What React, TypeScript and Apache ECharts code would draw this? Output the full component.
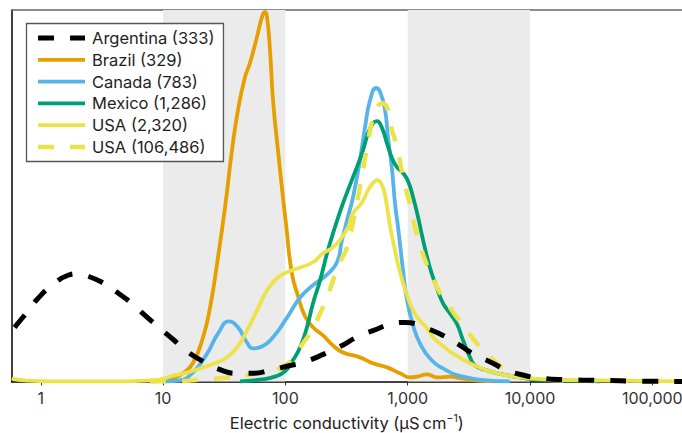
import { useEffect, useRef } from "react";
import * as echarts from "echarts";

// Conductivity (µS/cm) vs. relative density, one [conductivity, density] list per country.
const argentina: [number, number][] = [
  [0.61, 14.6], [0.77, 18.6], [0.95, 22.4], [1.24, 25.9], [1.67, 28.6], [1.98, 29.0],
  [2.3, 28.6], [3.17, 26.7], [4.2, 24.0], [5.57, 21.0], [7.11, 17.8], [9.44, 14.3],
  [12.1, 11.3], [15.7, 8.1], [20.0, 5.9], [29.2, 3.2], [40.2, 2.2], [54.3, 2.2],
  [74.8, 3.0], [109, 4.3], [139, 5.1], [211, 7.5], [280, 9.4], [392, 12.1], [520, 13.7],
  [758, 15.6], [951, 15.9], [1148, 15.6], [1440, 14.3], [1945, 12.4], [2680, 9.7],
  [3420, 7.5], [4980, 4.9], [6470, 3.0], [9080, 1.6], [12100, 0.9], [19300, 0.5],
  [37300, 0.3], [79300, 0.1], [175000, 0],
];

const brazil: [number, number][] = [
  [7.8, 0], [10.4, 0.3], [12.1, 0.8], [14.5, 2.2], [17.5, 4.9], [21.2, 11.9], [24.2, 19.9],
  [28.1, 33.4], [32.1, 46.9], [36.6, 62.3], [40.9, 73.0], [46.7, 81.9], [51.3, 85.7],
  [58.5, 92.7], [64.3, 98.1], [68.0, 99.5], [70.6, 98.3], [74.8, 89.2], [79.2, 75.7],
  [86.9, 62.3], [95.5, 49.6], [101, 42.6], [113, 29.1], [127, 22.9], [145, 17.5],
  [168, 14.6], [203, 12.4], [245, 9.7], [296, 7.8], [407, 6.5], [520, 4.9], [677, 3.8],
  [865, 2.2], [1045, 1.1], [1190, 1.3], [1440, 1.9], [1740, 1.1], [2220, 1.3],
  [2680, 0.9], [3550, 0.3], [5170, 0],
];

const canada: [number, number][] = [
  [10.4, 0], [13.7, 0.3], [17.5, 2.4], [22.9, 7.5], [28.1, 12.9], [34.6, 16.2],
  [40.9, 14.6], [48.5, 10.5], [54.3, 8.9], [64.3, 9.4], [79.2, 11.9], [103, 17.2],
  [132, 22.6], [168, 25.9], [219, 28.8], [264, 32.1], [290, 38.0], [319, 43.4],
  [357, 49.6], [407, 59.6], [448, 68.5], [492, 75.7], [551, 79.0], [594, 78.0],
  [653, 73.0], [690, 65.8], [745, 56.9], [787, 48.0], [834, 41.5], [916, 29.9],
  [988, 21.8], [1107, 15.1], [1262, 10.2], [1524, 6.2], [2020, 3.2], [2830, 1.3],
  [4450, 0.3], [6850, 0],
];

const mexico: [number, number][] = [
  [42.5, 0], [61.9, 0.5], [82.2, 1.3], [99, 2.7], [115, 5.7], [132, 9.2], [150, 14.6],
  [168, 21.0], [192, 27.2], [219, 34.5], [245, 39.9], [296, 48.0], [357, 55.0],
  [423, 61.4], [474, 66.8], [520, 69.5], [561, 70.1], [617, 68.2], [677, 64.1],
  [745, 60.1], [817, 57.7], [916, 56.1], [1007, 53.9], [1107, 49.6], [1216, 44.2],
  [1337, 38.0], [1524, 30.5], [1738, 25.1], [1945, 21.0], [2219, 18.3], [2534, 15.4],
  [2834, 11.1], [3234, 6.5], [3550, 4.3], [4450, 3.0], [6010, 1.9], [8280, 1.1],
  [11400, 0.5], [17600, 0.3], [37300, 0],
];

const usaWells: [number, number][] = [
  [0.58, 0.8], [0.74, 0.3], [1.19, 0], [4.43, 0], [7.82, 0.3], [9.4, 0.5], [12.1, 1.6],
  [15.7, 2.4], [20.0, 3.5], [27.6, 5.1], [33.3, 6.5], [40.2, 9.2], [48.5, 13.7],
  [58.5, 19.1], [70.6, 24.5], [85.3, 27.8], [103, 29.4], [132, 30.7], [168, 32.1],
  [203, 34.5], [245, 36.1], [290, 38.8], [325, 41.5], [357, 45.3], [423, 48.2],
  [474, 51.5], [520, 53.4], [561, 54.2], [617, 52.8], [664, 48.8], [716, 42.0],
  [787, 35.3], [865, 29.4], [988, 23.2], [1107, 19.1], [1262, 16.4], [1440, 14.3],
  [1611, 11.9], [1837, 10.2], [2350, 7.5], [3234, 4.9], [4450, 3.0], [6010, 1.9],
  [8280, 1.1], [15400, 0.5], [37300, 0.3], [175000, 0],
];

const usaAll: [number, number][] = [
  [7.82, 0], [13.7, 0.1], [20.0, 0.5], [33.9, 1.1], [64.3, 2.4], [99, 4.3], [122, 7.8],
  [145, 11.1], [168, 14.3], [192, 18.3], [219, 22.6], [245, 27.2], [280, 32.1],
  [319, 36.1], [357, 42.9], [407, 52.3], [465, 63.1], [520, 71.1], [561, 73.8],
  [617, 74.9], [677, 73.8], [716, 69.5], [817, 63.1], [916, 55.0], [1045, 47.4],
  [1148, 41.5], [1262, 36.7], [1440, 31.3], [1738, 25.3], [2100, 21.0], [2534, 17.2],
  [3055, 13.7], [3690, 10.2], [4450, 7.5], [5370, 4.9], [6850, 2.4], [9440, 1.1],
  [13800, 0.5], [25600, 0.3], [175000, 0],
];

const seriesNames = [
  "Argentina (333)",
  "Brazil (329)",
  "Canada (783)",
  "Mexico (1,286)",
  "USA (2,320)",
  "USA (106,486)",
];

const tickValues = [1, 10, 100, 1000, 10000, 100000];
const shadedRanges: [number, number][] = [
  [10, 100],
  [1000, 10000],
];
const xMin = 0.576;
const xMax = 174900;

const FONT = "Inter, 'Noto Sans', sans-serif";

export default function App() {
  const ref = useRef<HTMLDivElement>(null);

  useEffect(() => {
    if (!ref.current) return;
    const chart = echarts.init(ref.current, undefined, { renderer: "svg" });

    const lineSeries = (
      name: string,
      data: [number, number][],
      color: string,
      width: number,
      dashed: boolean,
      z: number
    ) => ({
      name,
      type: "line",
      data,
      showSymbol: false,
      symbol: "none",
      smooth: 0.5,
      z,
      lineStyle: {
        color,
        width,
        type: dashed ? [16, 16] : "solid",
        cap: "butt",
        join: "round",
      },
      itemStyle: { color },
    });

    chart.setOption({
      animation: false,
      grid: {
        left: 11.5,
        right: 0,
        top: 10,
        bottom: 51.5,
        containLabel: false,
        outerBoundsMode: "none",
      },
      legend: {
        data: seriesNames,
        orient: "vertical",
        left: 26.5,
        top: 23.5,
        itemWidth: 47,
        itemHeight: 14,
        itemGap: 4.8,
        padding: [6, 9, 6, 9],
        borderColor: "#555555",
        borderWidth: 1.3,
        backgroundColor: "#ffffff",
        selectedMode: false,
        itemStyle: { opacity: 0, borderWidth: 0 },
        lineStyle: { width: "inherit" },
        textStyle: {
          fontFamily: FONT,
          fontSize: 16.5,
          color: "#1e1e1e",
          padding: [0, 0, 0, 2],
        },
      },
      xAxis: [
        {
          type: "log",
          logBase: 10,
          min: xMin,
          max: xMax,
          position: "bottom",
          name: "Electric conductivity (μS\u2009cm{sup|−1})",
          nameLocation: "middle",
          nameGap: 31,
          nameTextStyle: {
            fontFamily: FONT,
            fontSize: 16.5,
            color: "#222222",
            rich: {
              sup: { fontFamily: FONT, fontSize: 10.5, verticalAlign: "top", lineHeight: 20, color: "#222222" },
            },
          },
          axisLine: { show: true, lineStyle: { color: "#000000", width: 1.5 } },
          axisTick: {
            show: true,
            length: 4,
            customValues: tickValues,
            lineStyle: { color: "#333333", width: 1 },
          },
          axisLabel: {
            show: true,
            customValues: tickValues,
            margin: 8,
            fontFamily: FONT,
            fontSize: 16,
            color: "#333333",
            formatter: (v: number) => {
              const e = Math.log10(v);
              if (Math.abs(e - Math.round(e)) > 1e-6) return "";
              return Math.round(v).toLocaleString("en-US");
            },
          },
          splitLine: { show: false },
          minorTick: { show: false },
          minorSplitLine: { show: false },
        },
        {
          type: "log",
          logBase: 10,
          min: xMin,
          max: xMax,
          position: "top",
          axisLine: { show: true, lineStyle: { color: "#666666", width: 1.5 } },
          axisTick: { show: false },
          axisLabel: { show: false },
          splitLine: { show: false },
        },
      ],
      yAxis: {
        type: "value",
        min: 0,
        max: 100,
        axisLine: { show: true, lineStyle: { color: "#000000", width: 1.5 } },
        axisTick: { show: false },
        axisLabel: { show: false },
        splitLine: { show: false },
      },
      series: [
        {
          name: "bands",
          type: "line",
          data: [],
          z: 0,
          silent: true,
          markArea: {
            silent: true,
            itemStyle: { color: "#ebebeb" },
            data: shadedRanges.map(([a, b]) => [{ xAxis: a }, { xAxis: b }]),
          },
        },
        lineSeries(seriesNames[0], argentina, "#000000", 5, true, 8),
        lineSeries(seriesNames[1], brazil, "#E69F00", 3.8, false, 3),
        lineSeries(seriesNames[2], canada, "#56B4E9", 3.8, false, 4),
        lineSeries(seriesNames[3], mexico, "#009E73", 3.8, false, 5),
        lineSeries(seriesNames[4], usaWells, "#ECE34A", 3.8, false, 6),
        lineSeries(seriesNames[5], usaAll, "#ECE34A", 4.5, true, 7),
      ],
    });

    return () => chart.dispose();
  }, []);

  return (
    <div
      ref={ref}
      style={{ position: "fixed", left: 0, top: 0, width: 682, height: 433, background: "#ffffff" }}
    />
  );
}
